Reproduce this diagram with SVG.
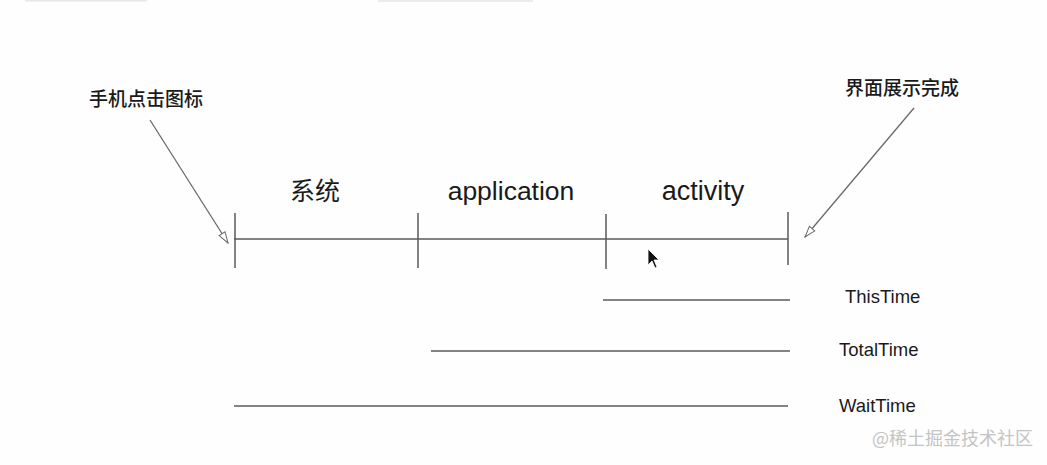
<svg xmlns="http://www.w3.org/2000/svg" width="1047" height="465" viewBox="0 0 1047 465">
<style>
.ln{stroke:#5a5a5a;stroke-width:1.5;fill:none}
.ar{stroke:#6a6a6a;stroke-width:1.3;fill:none}
.cn{font-family:"Noto Sans CJK SC","Liberation Sans",sans-serif;fill:#1a1a1a;font-weight:500}
.lb{font-family:"Liberation Sans",Arial,sans-serif;fill:#1a1a1a}
</style>
<defs>
<marker id="open" viewBox="0 0 13 9" refX="12" refY="4.5" markerWidth="13" markerHeight="9" markerUnits="userSpaceOnUse" orient="auto">
<path d="M1,1 L12,4.5 L1,8 Z" fill="#fff" stroke="#6a6a6a" stroke-width="1"/>
</marker>
</defs>
<rect width="1047" height="465" fill="#fefefe"/>
<rect x="25" y="0" width="122" height="1.5" fill="#e8e8ec"/>
<rect x="378" y="0" width="155" height="2" fill="#ececf0"/>
<g id="connectors">
<line class="ar" x1="150" y1="120" x2="228" y2="243" marker-end="url(#open)"/>
<line class="ar" x1="914" y1="108" x2="805" y2="237" marker-end="url(#open)"/>
</g>
<g id="timeline">
<line class="ln" x1="234" y1="239" x2="788" y2="239"/>
<line class="ln" x1="235" y1="213" x2="235" y2="268"/>
<line class="ln" x1="418" y1="213" x2="418" y2="268"/>
<line class="ln" x1="606" y1="214" x2="606" y2="269"/>
<line class="ln" x1="788" y1="212" x2="788" y2="265"/>
</g>
<g id="label-start"><text class="cn" x="89" y="106" font-size="19">手机点击图标</text></g>
<g id="label-end"><text class="cn" x="845" y="95" font-size="19">界面展示完成</text></g>
<g id="seg-system"><text class="cn" x="315" y="200" font-size="25" style="font-weight:400" text-anchor="middle">系统</text></g>
<g id="seg-application"><text class="lb" x="511" y="200" font-size="26.5" text-anchor="middle">application</text></g>
<g id="seg-activity"><text class="lb" x="703" y="200" font-size="27" text-anchor="middle">activity</text></g>
<g id="this-time">
<line class="ln" x1="603" y1="300" x2="790" y2="300"/>
<text class="lb" x="845" y="303" font-size="18.5">ThisTime</text>
</g>
<g id="total-time">
<line class="ln" x1="431" y1="351" x2="790" y2="351"/>
<text class="lb" x="839" y="356" font-size="18.5">TotalTime</text>
</g>
<g id="wait-time">
<line class="ln" x1="234" y1="406" x2="788" y2="406"/>
<text class="lb" x="839" y="412" font-size="18.5">WaitTime</text>
</g>
<path d="M648,249 L648,265 L652,261 L655,268 L657,267 L654,260 L659,260 Z" fill="#111" stroke="#fff" stroke-width="0.8"/>
<text x="872" y="445" font-size="18" fill="#c4c4c4" font-family="'Noto Sans CJK SC','Liberation Sans',sans-serif">@稀土掘金技术社区</text>
</svg>
